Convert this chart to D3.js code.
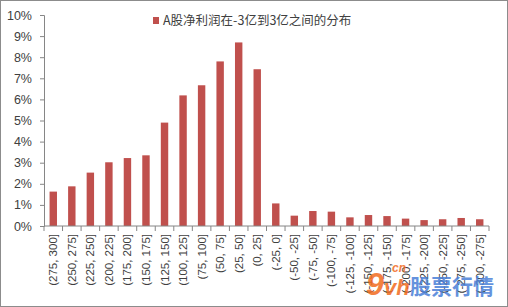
<!DOCTYPE html>
<html>
<head>
<meta charset="utf-8">
<script src="https://cdn.jsdelivr.net/npm/d3@7"></script>
<style>
  body { margin: 0; background: #fff; }
  svg { display: block; font-family: "Liberation Sans", Arial, sans-serif; }
</style>
</head>
<body>
<div class="vis"></div>
<script>
// bins of net profit (亿), from top to bottom
const categories = ["(275, 300]", "(250, 275]", "(225, 250]", "(200, 225]", "(175, 200]", "(150, 175]",
    "(125, 150]", "(100, 125]", "(75, 100]", "(50, 75]", "(25, 50]", "(0, 25]",
    "(-25, 0]", "(-50, -25]", "(-75, -50]", "(-100, -75]", "(-125, -100]", "(-150, -125]",
    "(-175, -150]", "(-200, -175]", "(-225, -200]", "(-250, -225]", "(-275, -250]", "(-300, -275]"]
const shares = [1.63, 1.88, 2.53, 3.02, 3.22, 3.35, 4.9, 6.19, 6.67, 7.8, 8.7, 7.43,
    1.07, 0.49, 0.71, 0.68, 0.41, 0.52, 0.47, 0.35, 0.28, 0.32, 0.38, 0.32]
const yTicks = [0, 1, 2, 3, 4, 5, 6, 7, 8, 9, 10]
const seriesName = "A股净利润在-3亿到3亿之间的分布"

const W = 508, H = 307
const m = { left: 44, right: 489, top: 15, bottom: 226 }

const svg = d3.select(".vis").append("svg").attr("width", W).attr("height", H)

svg.append("rect")
    .attr("x", 0.5).attr("y", 0.5)
    .attr("width", W - 1).attr("height", H - 1)
    .attr("fill", "#fff").attr("stroke", "#8c8c8c")

const x = d3.scaleBand().domain(categories).range([m.left, m.right]).paddingInner(0.6).paddingOuter(0.3)
const y = d3.scaleLinear().domain([0, 10]).range([m.bottom, m.top])

// bars
svg.append("g").selectAll("rect")
    .data(shares)
    .join("rect")
    .attr("x", (d, i) => x(categories[i]))
    .attr("y", d => y(d))
    .attr("width", x.bandwidth())
    .attr("height", d => y(0) - y(d))
    .attr("fill", "#c0504d")

// y axis
const yAxis = svg.append("g")
    .attr("transform", `translate(${m.left}, 0)`)
    .call(d3.axisLeft(y).tickValues(yTicks).tickFormat(d => d + "%").tickSize(4).tickPadding(8))
yAxis.select(".domain").attr("stroke", "#868686")
yAxis.selectAll(".tick line").attr("stroke", "#868686")
yAxis.selectAll(".tick text").attr("fill", "#404040").style("font-size", "12.5px")

// x axis, ticks on band edges
const xAxis = svg.append("g").attr("transform", `translate(0, ${m.bottom})`)
xAxis.append("line")
    .attr("x1", m.left).attr("x2", m.right)
    .attr("stroke", "#868686")
const step = (m.right - m.left) / categories.length
xAxis.selectAll("line.tk")
    .data(d3.range(categories.length + 1))
    .join("line")
    .attr("class", "tk")
    .attr("x1", i => m.left + i * step).attr("x2", i => m.left + i * step)
    .attr("y1", 0).attr("y2", 5)
    .attr("stroke", "#868686")
xAxis.selectAll("text")
    .data(categories)
    .join("text")
    .attr("transform", d => `translate(${x(d) + x.bandwidth() / 2 + 4}, 8) rotate(-90)`)
    .attr("text-anchor", "end")
    .attr("fill", "#404040")
    .style("font-size", "11.5px")
    .text(d => d)

// legend
const lg = svg.append("g").attr("transform", "translate(153, 17)")
lg.append("rect").attr("width", 6).attr("height", 7).attr("fill", "#c0504d")
lg.append("text")
    .attr("x", 10).attr("y", 8)
    .attr("fill", "#404040")
    .style("font-family", "'Noto Sans CJK SC', sans-serif")
    .style("font-size", "12.5px")
    .text(seriesName)

// watermark
const wm = svg.append("g").attr("opacity", 0.85)
wm.append("text").attr("x", 366).attr("y", 295)
    .attr("fill", "#f26c1f").style("font-size", "32px").style("font-weight", "bold").style("font-style", "italic")
    .text("9")
wm.append("text").attr("x", 384).attr("y", 295)
    .attr("fill", "#f26c1f").style("font-size", "22px").style("font-weight", "bold").style("font-style", "italic")
    .text("vh")
wm.append("text").attr("x", 392).attr("y", 272)
    .attr("fill", "#f26c1f").style("font-size", "12px").style("font-weight", "bold").style("font-style", "italic")
    .text("cn")
wm.append("text").attr("x", 410).attr("y", 294)
    .attr("fill", "#4a80d8").style("font-size", "21px").style("font-weight", "bold")
    .style("font-family", "'Noto Sans CJK SC', sans-serif")
    .text("股票行情")
</script>
</body>
</html>
